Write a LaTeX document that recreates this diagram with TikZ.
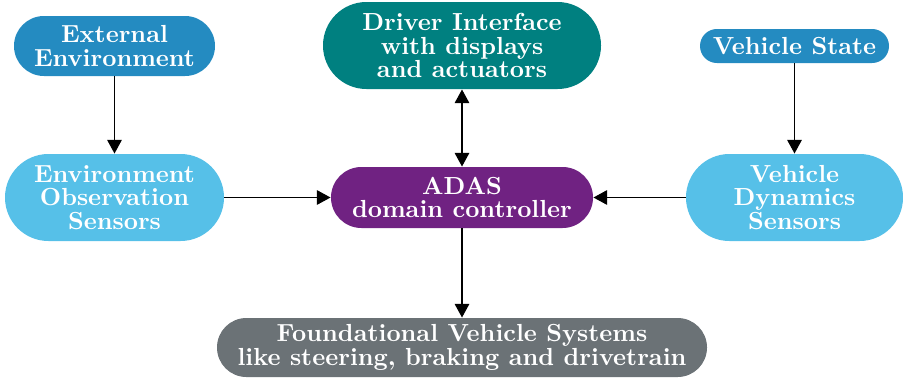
\documentclass[tikz,border=0pt]{standalone}
\usetikzlibrary{arrows.meta}
\newcommand\pxl{0.413pt}
\definecolor{extblue}{RGB}{36,139,193}
\definecolor{drvteal}{RGB}{0,128,128}
\definecolor{sensblue}{RGB}{86,192,232}
\definecolor{adaspurple}{RGB}{112,34,130}
\definecolor{fndgray}{RGB}{107,114,118}
\begin{document}
\begin{tikzpicture}[x=\pxl,y=-\pxl,
  box/.style={rectangle, align=center, text=white, inner sep=0pt,
    font=\fontsize{10.2}{9.8}\selectfont\bfseries},
  arr/.style={-{Triangle[length=5.6pt,width=6pt]}, line width=0.45pt},
  darr/.style={{Triangle[length=5.6pt,width=6pt]}-{Triangle[length=5.6pt,width=6pt]}, line width=0.45pt}]
\useasboundingbox (0,0) rectangle (903,378);
\node[box, fill=extblue, minimum width=201*\pxl, minimum height=60*\pxl, rounded corners=29.9*\pxl]
  (ext) at (114.5,46) {External\\Environment};
\node[box, fill=drvteal, minimum width=278*\pxl, minimum height=87*\pxl, rounded corners=43.4*\pxl]
  (drv) at (462,45.5) {Driver Interface\\with displays\\and actuators};
\node[box, fill=extblue, minimum width=189*\pxl, minimum height=34*\pxl, rounded corners=16.9*\pxl]
  (vst) at (794.5,46) {Vehicle State};
\node[box, fill=sensblue, minimum width=219*\pxl, minimum height=87*\pxl, rounded corners=43.4*\pxl]
  (eos) at (114.5,197.5) {Environment\\Observation\\Sensors};
\node[box, fill=adaspurple, minimum width=262*\pxl, minimum height=61*\pxl, rounded corners=30.4*\pxl]
  (adas) at (462,197.5) {ADAS\\domain controller};
\node[box, fill=sensblue, minimum width=217*\pxl, minimum height=87*\pxl, rounded corners=43.4*\pxl]
  (vds) at (794.5,197.5) {Vehicle\\Dynamics\\Sensors};
\node[box, fill=fndgray, minimum width=490*\pxl, minimum height=59*\pxl, rounded corners=29.4*\pxl]
  (fnd) at (462,347.5) {Foundational Vehicle Systems\\like steering, braking and drivetrain};
\draw[arr] (ext) -- (eos);
\draw[arr] (vst) -- (vds);
\draw[arr] (eos) -- (adas);
\draw[arr] (vds) -- (adas);
\draw[darr] (drv) -- (adas);
\draw[arr] (adas) -- (fnd);
\end{tikzpicture}
\end{document}
